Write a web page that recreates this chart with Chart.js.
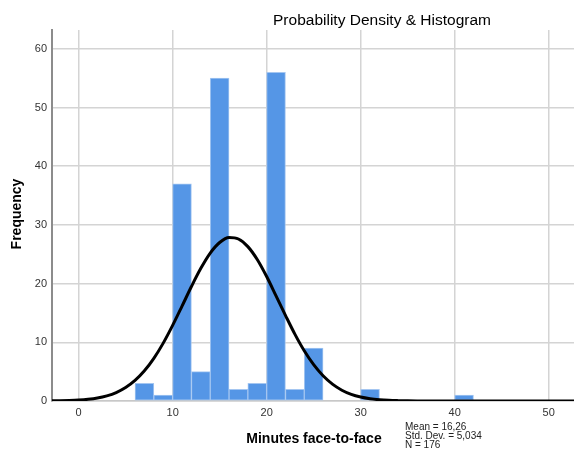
<!DOCTYPE html>
<html>
<head>
<meta charset="utf-8">
<script src="https://cdn.jsdelivr.net/npm/chart.js@4/dist/chart.umd.min.js"></script>
<style>
  body { margin: 0; background: #fff; }
  canvas { display: block; }
</style>
</head>
<body>
<canvas id="histChart" width="574" height="450"></canvas>
<script>
// histogram bins (bin centre, width 2) and counts
const binCentres = [7, 9, 11, 13, 15, 17, 19, 21, 23, 25, 31, 41];
const binCounts = [3, 1, 37, 5, 55, 2, 3, 56, 2, 9, 2, 1];

// normal curve
const curveX = [-3, -2, -1, 0, 1, 2, 3, 4, 5, 6, 7, 8, 9, 10, 11, 12, 13, 14, 15, 16, 17, 18,
    19, 20, 21, 22, 23, 24, 25, 26, 27, 28, 29, 30, 31, 32, 33, 34, 35, 36, 37, 40, 45, 53];
const curveY = [0.02, 0.04, 0.08, 0.15, 0.28, 0.5, 0.87, 1.44, 2.29, 3.5, 5.14, 7.26, 9.86,
    12.88, 16.16, 19.5, 22.6, 25.2, 27.0, 27.86, 27.6, 26.3, 24.1, 21.2, 17.9, 14.6, 11.4,
    8.56, 6.18, 4.29, 2.87, 1.84, 1.13, 0.67, 0.38, 0.21, 0.11, 0.06, 0.03, 0.01, 0, 0, 0, 0];

const xTickValues = [0, 10, 20, 30, 40, 50];
const statsLines = ['Mean = 16,26', 'Std. Dev. = 5,034', 'N = 176'];

const FONT = '"Liberation Sans", Arial, sans-serif';

const textPlugin = {
    id: 'spssText',
    afterDraw(chart) {
        const ctx = chart.ctx;
        ctx.save();
        ctx.fillStyle = '#000';
        ctx.textBaseline = 'middle';

        ctx.textAlign = 'center';
        ctx.font = '15.5px ' + FONT;
        ctx.fillText('Probability Density & Histogram', 382, 21);

        ctx.font = 'bold 14px ' + FONT;
        ctx.fillText('Minutes face-to-face', 314, 439);

        ctx.save();
        ctx.translate(17, 214);
        ctx.rotate(-Math.PI / 2);
        ctx.fillText('Frequency', 0, 0);
        ctx.restore();

        ctx.textAlign = 'left';
        ctx.font = '10px ' + FONT;
        ctx.fillStyle = '#222';
        statsLines.forEach((line, i) => {
            ctx.fillText(line, 405, 427 + i * 9.3);
        });
        ctx.restore();
    }
};

const ctx = document.getElementById('histChart').getContext('2d');
new Chart(ctx, {
    type: 'bar',
    data: {
        datasets: [{
            type: 'line',
            data: curveX.map((x, i) => ({ x, y: curveY[i] })),
            borderColor: '#000',
            borderWidth: 3,
            pointRadius: 0,
            fill: false,
            tension: 0.4,
            cubicInterpolationMode: 'monotone',
            order: 0
        }, {
            type: 'bar',
            data: binCentres.map((x, i) => ({ x, y: binCounts[i] })),
            backgroundColor: '#5596e6',
            borderColor: '#a4c6f1',
            borderWidth: 1,
            borderSkipped: false,
            barPercentage: 1,
            categoryPercentage: 1,
            order: 1
        }]
    },
    options: {
        responsive: false,
        animation: false,
        layout: { padding: { top: 30, right: 0, left: 0, bottom: 0 } },
        plugins: {
            legend: { display: false },
            tooltip: { enabled: false },
            title: { display: false }
        },
        scales: {
            x: {
                type: 'linear',
                min: -2.83,
                max: 52.69,
                offset: false,
                afterFit: scale => { scale.height = 49; },
                afterBuildTicks: scale => {
                    scale.ticks = xTickValues.map(v => ({ value: v }));
                },
                grid: {
                    color: '#d4d4d4',
                    lineWidth: 1.5,
                    drawTicks: false,
                    offset: false
                },
                border: { color: '#c8c8c8', width: 1.5 },
                ticks: {
                    padding: 5,
                    maxRotation: 0,
                    autoSkip: false,
                    color: '#333',
                    font: { family: FONT, size: 11 }
                }
            },
            y: {
                min: 0,
                max: 63.2,
                afterFit: scale => { scale.width = 52; },
                grid: {
                    color: '#d4d4d4',
                    lineWidth: 1.5,
                    drawTicks: false
                },
                border: { color: '#8c8c8c', width: 2 },
                ticks: {
                    stepSize: 10,
                    includeBounds: false,
                    padding: 5,
                    color: '#333',
                    font: { family: FONT, size: 11 }
                }
            }
        }
    },
    plugins: [textPlugin]
});
</script>
</body>
</html>
